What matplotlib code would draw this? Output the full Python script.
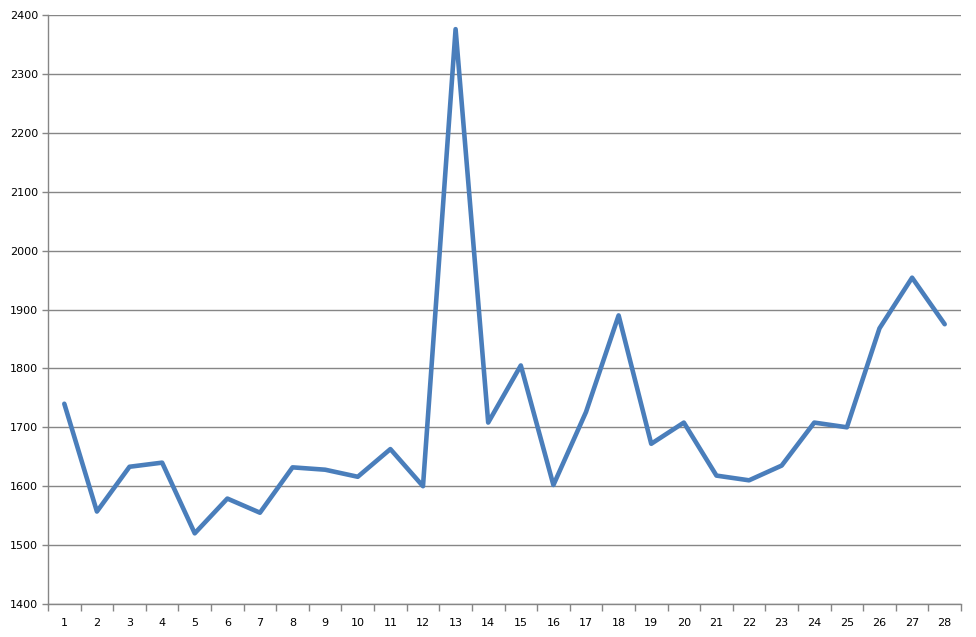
import numpy as np
from matplotlib import pyplot as plt

days = list(range(1, 29))
values = [1740, 1557, 1633, 1640, 1520, 1579, 1555, 1632, 1628, 1616,
          1663, 1600, 2376, 1708, 1805, 1602, 1726, 1890, 1672, 1708,
          1618, 1610, 1635, 1708, 1700, 1868, 1954, 1875]
y_ticks = list(range(1400, 2401, 100))

grey = '#868686'

fig = plt.figure(figsize=(9.76, 6.37), dpi=100)
ax = fig.add_axes([48 / 976, 1 - 604 / 637, 913 / 976, 589 / 637])

ax.plot(days, values, color='#4A7EBB', linewidth=3.3,
        solid_joinstyle='round', solid_capstyle='round', zorder=3)

ax.set_xlim(0.5, 28.5)
ax.set_ylim(1400, 2400)
ax.set_yticks(y_ticks)
ax.yaxis.grid(True, color=grey, linewidth=1)
ax.set_axisbelow(True)

# category labels centred, tick marks between categories
ax.set_xticks(days)
ax.set_xticklabels([str(d) for d in days])
ax.set_xticks(np.arange(0.5, 29, 1), minor=True)
ax.tick_params(axis='x', which='major', length=0, pad=10, labelsize=8)
ax.tick_params(axis='x', which='minor', length=5, color=grey, width=1)
ax.tick_params(axis='y', length=4, color=grey, width=1, labelsize=8, pad=3)

for s in ['top', 'right']:
    ax.spines[s].set_visible(False)
for s in ['left', 'bottom']:
    ax.spines[s].set_color(grey)
    ax.spines[s].set_linewidth(1)

fig.savefig('out.png', dpi=100)
